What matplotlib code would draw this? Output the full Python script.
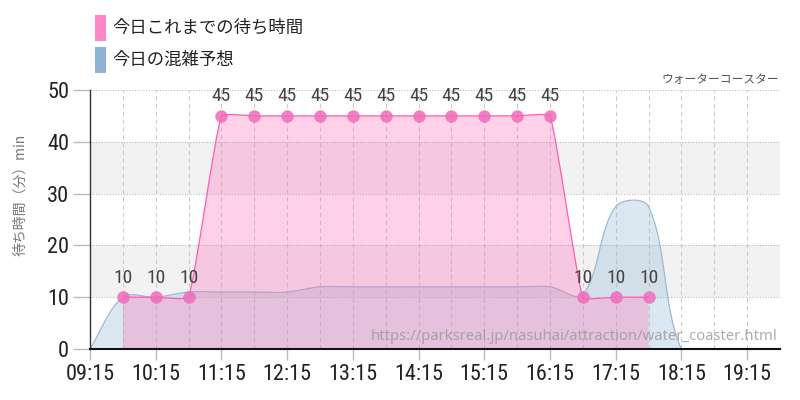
import numpy as np
import matplotlib
matplotlib.use('Agg')
import matplotlib.pyplot as plt
from matplotlib.path import Path
from matplotlib.patches import PathPatch, Rectangle
from matplotlib import font_manager

# ---------------- data ----------------
actual_times = ["09:45", "10:15", "10:45", "11:15", "11:45", "12:15", "12:45", "13:15",
                "13:45", "14:15", "14:45", "15:15", "15:45", "16:15", "16:45", "17:15", "17:45"]
actual_values = [10, 10, 10, 45, 45, 45, 45, 45, 45, 45, 45, 45, 45, 45, 10, 10, 10]

forecast_times = ["09:15", "09:45", "10:15", "10:45", "11:15", "11:45", "12:15", "12:45",
                  "13:15", "13:45", "14:15", "14:45", "15:15", "15:45", "16:15", "16:45",
                  "17:15", "17:45", "18:15", "18:45", "19:15", "19:45"]
forecast_values = [0, 10, 10, 11, 11, 11, 11, 12, 12, 12, 12, 12, 12, 12, 12, 10.5,
                   27.5, 27.5, 0, 0, 0, 0]

xtick_labels = ["09:15", "10:15", "11:15", "12:15", "13:15", "14:15", "15:15",
                "16:15", "17:15", "18:15", "19:15"]
yticks = [0, 10, 20, 30, 40, 50]

legend_labels = ["今日これまでの待ち時間", "今日の混雑予想"]
title_text = "ウォーターコースター"
ylabel_text = "待ち時間（分）min"
watermark = "https://parksreal.jp/nasuhai/attraction/water_coaster.html"

# ---------------- fonts ----------------
fl = font_manager.fontManager.ttflist
names = {f.name for f in fl}
num_font = None
for cand in ["Roboto Condensed", "Liberation Sans Narrow", "Open Sans Condensed"]:
    if cand in names:
        num_font = dict(family=cand)
        break
if num_font is None:
    if any(f.name == "DejaVu Sans" and "condensed" in str(f.stretch) for f in fl):
        num_font = dict(family="DejaVu Sans", stretch="condensed")
    else:
        num_font = dict(family="Roboto")
jp = ["Noto Sans CJK JP", "DejaVu Sans"]
plt.rcParams['font.family'] = jp


def hm(s):
    h, m = s.split(":")
    return int(h) + int(m) / 60.0


def spline_path(xs, ys, sx, sy, t=0.4, base=None):
    px = np.asarray(xs, float) * sx
    py = np.asarray(ys, float) * sy
    n = len(px)
    cps = []
    for i in range(n):
        a = i - 1 if i > 0 else i
        b = i + 1 if i < n - 1 else i
        d01 = np.hypot(px[i] - px[a], py[i] - py[a])
        d12 = np.hypot(px[b] - px[i], py[b] - py[i])
        tot = d01 + d12
        s01 = d01 / tot if tot else 0
        s12 = d12 / tot if tot else 0
        dx, dy = px[b] - px[a], py[b] - py[a]
        cps.append(((px[i] - t * s01 * dx, py[i] - t * s01 * dy),
                    (px[i] + t * s12 * dx, py[i] + t * s12 * dy)))
    verts = [(xs[0], ys[0])]
    codes = [Path.MOVETO]
    for i in range(n - 1):
        c1 = cps[i][1]
        c2 = cps[i + 1][0]
        verts += [(c1[0] / sx, c1[1] / sy), (c2[0] / sx, c2[1] / sy), (xs[i + 1], ys[i + 1])]
        codes += [Path.CURVE4] * 3
    if base is not None:
        verts += [(xs[-1], base), (xs[0], base), (xs[0], ys[0])]
        codes += [Path.LINETO, Path.LINETO, Path.CLOSEPOLY]
    return Path(verts, codes)


ax_x = [hm(s) for s in actual_times]
fc_x = [hm(s) for s in forecast_times]
xt = [hm(s) for s in xtick_labels]

fig = plt.figure(figsize=(8, 4), dpi=100)
ax = fig.add_axes([90 / 800, 51 / 400, 690 / 800, 259 / 400])
xmin, xmax = hm("09:15"), hm("19:45")
ax.set_xlim(xmin, xmax)
ax.set_ylim(0, 50)

# pixel scales
sx = 690 / (xmax - xmin)
sy = 259 / 50

# background bands
for lo, hi in [(10, 20), (30, 40)]:
    ax.axhspan(lo, hi, color="#f2f2f2", zorder=0, lw=0)

# grid
for y in yticks[1:]:
    ax.axhline(y, color="#bbbbbb", lw=0.8, ls=(0, (1, 1.5)), zorder=1)
half = np.arange(xmin + 0.5, xmax + 0.01, 0.5)
for x in half:
    ax.axvline(x, color="#cccccc", lw=0.8, ls=(0, (4, 3)), zorder=1)

# forecast
fp = spline_path(fc_x, forecast_values, sx, sy, t=0.35, base=0)
ax.add_patch(PathPatch(fp, facecolor="#8cb4d2", alpha=0.3, lw=0, zorder=2))
ax.add_patch(PathPatch(spline_path(fc_x, forecast_values, sx, sy, t=0.35), facecolor="none",
                       edgecolor="#9dbbd4", lw=0.9, zorder=3))

# actual
ap = spline_path(ax_x, actual_values, sx, sy, t=0.12, base=0)
ax.add_patch(PathPatch(ap, facecolor="#ff69b4", alpha=0.3, lw=0, zorder=4))
ax.add_patch(PathPatch(spline_path(ax_x, actual_values, sx, sy, t=0.12), facecolor="none",
                       edgecolor="#ff5cb4", lw=0.9, zorder=5))
ax.plot(ax_x, actual_values, ls="none", marker="o", ms=9, color="#f06cba", alpha=0.85,
        mec="none", zorder=6)
for x, v in zip(ax_x, actual_values):
    ax.annotate(f"{v}", (x, v), xytext=(0, 14), textcoords="offset points", ha="center",
                va="center", fontsize=14, color="#444444", zorder=7, **num_font)

# axes styling
for s in ["top", "right"]:
    ax.spines[s].set_visible(False)
ax.spines["left"].set_color("#333333")
ax.spines["left"].set_linewidth(1.0)
ax.spines["bottom"].set_color("#111111")
ax.spines["bottom"].set_linewidth(1.5)
ax.spines["left"].set_zorder(8)
ax.spines["bottom"].set_zorder(8)
ax.set_xticks(xt)
ax.set_xticklabels(xtick_labels)
ax.set_yticks(yticks)
ax.set_yticklabels([str(v) for v in yticks])
ax.tick_params(axis="x", length=8, color="#bbbbbb", width=1, pad=3)
ax.tick_params(axis="y", length=12, color="#bbbbbb", width=1, pad=3)
for lab in ax.get_xticklabels() + ax.get_yticklabels():
    lab.set_fontsize(16)
    lab.set_color("#222222")
    lab.set_fontfamily(num_font["family"])
    if "stretch" in num_font:
        lab.set_fontstretch(num_font["stretch"])

# y label
fig.text(20 / 800, 1 - 195 / 400, ylabel_text, rotation=90, ha="center", va="center",
         fontsize=10, color="#777777")

# title (right)
fig.text(779 / 800, 1 - 79 / 400, title_text, ha="right", va="center", fontsize=8.5,
         color="#555555")
# watermark
fig.text(778 / 800, 1 - 337 / 400, watermark, ha="right", va="center", fontsize=10.7,
         color="#999999", alpha=0.8, family=["Noto Sans", "DejaVu Sans"], zorder=10)

# legend
colors = ["#ff88c8", "#8fb3d2"]
for i, (lab, c) in enumerate(zip(legend_labels, colors)):
    top = 15 + i * 32
    fig.patches.append(Rectangle((95 / 800, 1 - (top + 26) / 400), 11 / 800, 26 / 400,
                                 transform=fig.transFigure, facecolor=c, lw=0))
    fig.text(112 / 800, 1 - (top + 13) / 400, lab, ha="left", va="center", fontsize=12.5,
             color="#222222")

fig.savefig("out.png", dpi=100)
